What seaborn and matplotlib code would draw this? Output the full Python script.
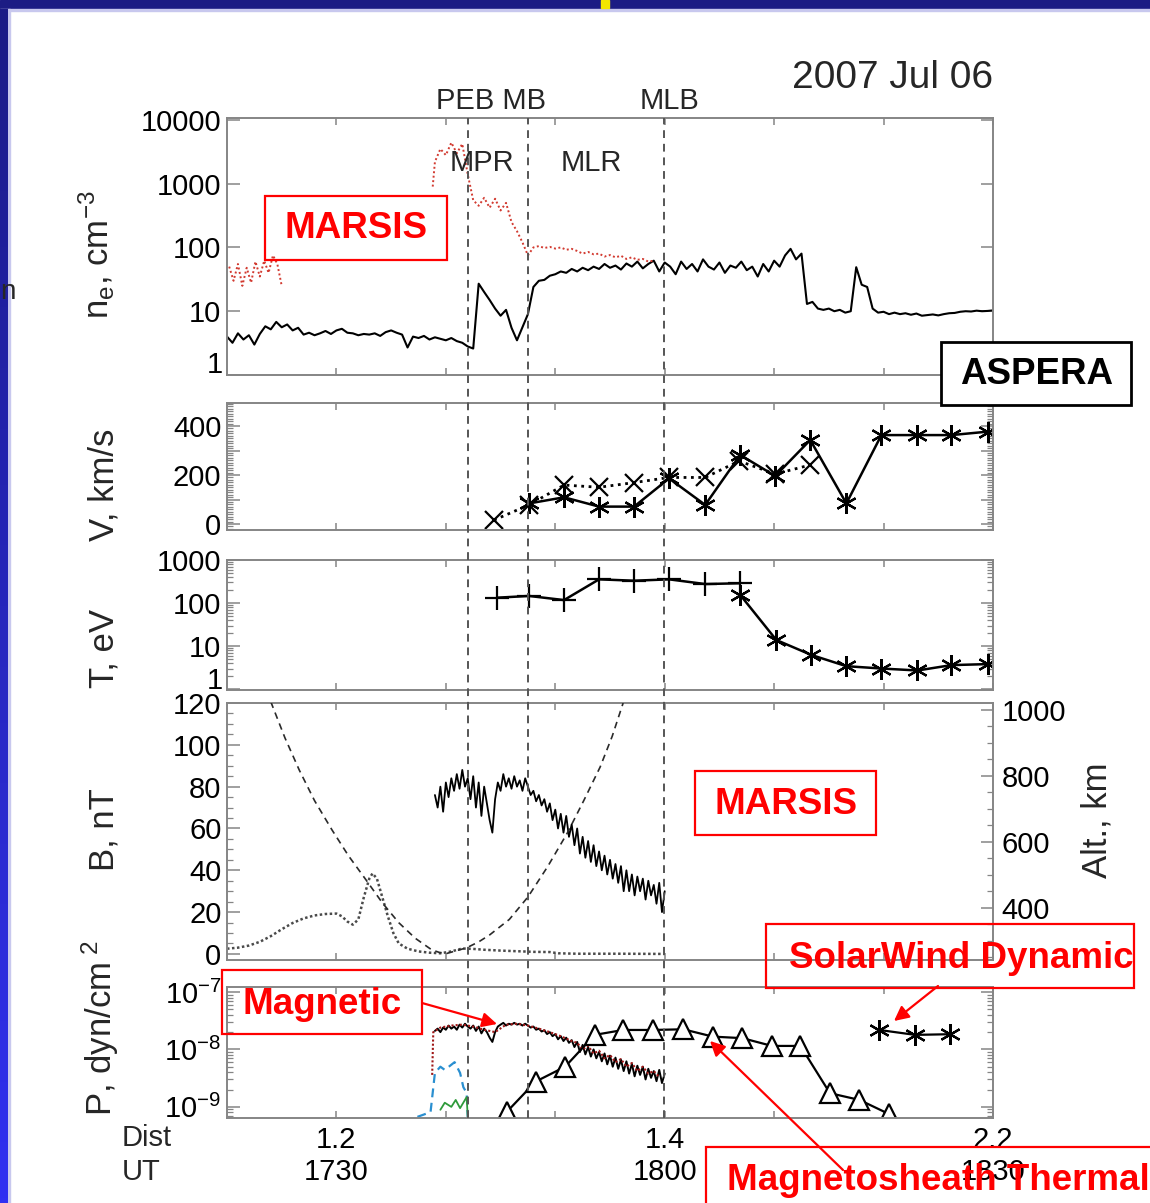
import numpy as np
import matplotlib
matplotlib.use("Agg")
import matplotlib.pyplot as plt
import seaborn as sns
from matplotlib.patches import Rectangle, FancyArrowPatch
from matplotlib.ticker import (MultipleLocator, LogLocator, FixedLocator,
                               FuncFormatter, NullFormatter, NullLocator)
from matplotlib.colors import LinearSegmentedColormap

# ---------------- data (time = minutes after 17:00 UT) ----------------
boundary_names = ["PEB", "MB", "MLB"]
boundary_t = [42.0, 47.5, 59.9]

xtick_t = [30, 60, 90]
xtick_dist = ["1.2", "1.4", "2.2"]
xtick_ut = ["1730", "1800", "1830"]

# electron density, ASPERA (black)
ne_aspera_t = np.arange(20.0, 90.01, 0.5)
ne_aspera = [
    4.0, 3.2, 4.5, 3.6, 4.2, 3.0, 4.4, 5.8, 5.2, 6.8,
    5.6, 6.2, 5.0, 5.5, 4.3, 4.6, 4.2, 4.5, 4.9, 4.4,
    5.0, 5.3, 4.6, 4.5, 4.2, 4.4, 4.3, 4.5, 4.1, 4.7,
    5.0, 4.6, 4.3, 2.7, 4.0, 3.8, 4.1, 3.6, 3.9, 3.7,
    3.5, 3.8, 3.4, 3.2, 2.8, 2.6, 27, 20, 15, 11,
    8.5, 10.5, 5.5, 3.5, 5.6, 9.0, 24, 30, 31, 36,
    38, 42, 40, 46, 42, 48, 44, 50, 46, 55,
    48, 52, 45, 56, 50, 60, 47, 55, 62, 42,
    58, 50, 38, 60, 46, 55, 42, 65, 50, 45,
    58, 40, 52, 48, 60, 44, 50, 35, 55, 42,
    62, 50, 75, 95, 65, 80, 13, 14, 11, 10.5,
    11, 10, 10.5, 9.5, 10, 49, 26, 24, 11, 9.5,
    9.8, 9.0, 9.5, 9.0, 9.3, 8.8, 9.2, 8.5, 8.7, 8.9,
    8.6, 9.0, 9.3, 9.4, 9.8, 10, 9.9, 10.2, 10, 10.1,
    10.3]

# electron density, MARSIS (red dotted), two segments
ne_marsis1_t = [20.2, 20.6, 21.0, 21.4, 21.8, 22.2, 22.6, 23.0, 23.4, 23.8, 24.2, 24.6, 25.0]
ne_marsis1 = [50, 30, 55, 25, 48, 28, 60, 35, 62, 40, 75, 55, 25]
ne_marsis2_t = np.concatenate([[38.8], np.arange(39.0, 59.01, 0.5)])
ne_marsis2 = [900, 2200, 3500, 2800, 4400, 3000, 4200, 1400, 550, 450,
              600, 420, 580, 380, 500, 250, 180, 120, 75, 100,
              105, 98, 102, 96, 100, 92, 95, 88, 80, 85,
              78, 80, 72, 76, 70, 74, 66, 70, 64, 66,
              60, 62]

# ion velocity
v_dot_t = [44.4, 47.6, 50.8, 54.0, 57.2, 60.4, 63.7, 66.8, 70.1, 73.3]
v_dot = [16, 78, 159, 150, 169, 190, 190, 257, 204, 241]
v_sol_t = [47.6, 50.8, 54.0, 57.2, 60.4, 63.7, 66.9, 70.1, 73.3, 76.6, 79.8, 83.1, 86.2, 89.5]
v_sol = [84, 109, 71, 71, 186, 78, 282, 196, 343, 84, 363, 363, 363, 377]

# ion temperature
t_plus_t = [44.7, 47.6, 50.8, 54.0, 57.2, 60.4, 63.7, 66.9]
t_plus = [133, 146, 117, 355, 330, 355, 276, 288]
t_ast_t = [66.9, 70.2, 73.4, 76.6, 79.8, 83.1, 86.2, 89.5]
t_ast = [154, 13.8, 6.2, 3.4, 3.0, 2.7, 3.6, 3.8]

# magnetic field from MARSIS (black)
b_t = np.arange(39.0, 60.001, 0.25)
b_nt = [76, 70, 80, 68, 82, 75, 84, 78, 86, 79,
        88, 80, 84, 74, 85, 70, 82, 66, 80, 72,
        64, 58, 74, 82, 78, 86, 80, 84, 79, 85,
        80, 83, 78, 84, 80, 76, 78, 73, 76, 71,
        74, 68, 72, 64, 69, 60, 67, 58, 66, 56,
        62, 52, 60, 48, 56, 46, 54, 44, 52, 42,
        49, 40, 47, 38, 45, 36, 43, 34, 42, 30,
        40, 30, 38, 28, 37, 30, 36, 26, 35, 28,
        33, 24, 34, 20, 30]

# model crustal field (gray dotted)
bm_t = [20, 21, 22, 23, 24, 25, 26, 27, 28, 29, 30, 30.5, 31, 31.5, 32, 32.5, 33.0, 33.3,
        33.7, 34.2, 34.7, 35.2, 35.7, 36.5, 37.5, 38.5, 39.5, 40.5, 41.5, 42.5, 43.5, 45,
        46.5, 48, 49.5, 50.3, 52, 56, 60]
bm_nt = [2.5, 3.0, 4.0, 5.8, 8.5, 11.8, 14.8, 17.0, 18.4, 19.1, 19.3, 18.0, 15.5, 14.0,
         16.5, 27, 36, 38.5, 36, 27, 18, 10, 5, 2.5, 1.2, 0.6, 0.3, 1.2, 2.6, 2.4, 2.0,
         1.6, 1.3, 1.0, 0.9, 0.3, 0.1, 0.1, 0.0]

# spacecraft altitude (dashed, right axis)
alt_t = [24.0, 25.3, 26.6, 28.0, 29.6, 31.1, 32.7, 34.2, 35.7, 37.2, 38.7, 39.4, 40.1,
         41.9, 43.0, 44.0, 45.8, 47.5, 49.3, 51.1, 52.6, 54.1, 55.2, 56.2]
alt_km = [1025, 915, 818, 725, 636, 558, 485, 415, 355, 308, 273, 265, 262,
          279, 297, 318, 365, 433, 525, 627, 725, 827, 920, 1021]

# pressures (dyn/cm^2)
pmag_t = np.arange(39.0, 60.001, 0.25)
pmag_e8 = [2.1, 2.3, 2.0, 2.4, 2.2, 2.6, 2.3, 2.5, 2.2, 2.7,
           2.4, 2.8, 2.5, 2.3, 2.6, 2.1, 2.5, 1.9, 2.3, 2.0,
           1.6, 1.35, 2.0, 2.5, 2.7, 2.9, 2.6, 2.8, 2.7, 2.9,
           2.7, 2.8, 2.6, 2.8, 2.6, 2.4, 2.5, 2.2, 2.3, 2.05,
           2.15, 1.85, 2.0, 1.7, 1.85, 1.5, 1.7, 1.4, 1.6, 1.3,
           1.45, 1.1, 1.35, 0.9, 1.2, 0.82, 1.1, 0.75, 1.0, 0.7,
           0.9, 0.62, 0.85, 0.55, 0.78, 0.5, 0.72, 0.46, 0.66, 0.42,
           0.62, 0.38, 0.56, 0.34, 0.52, 0.36, 0.5, 0.3, 0.46, 0.32,
           0.42, 0.28, 0.44, 0.26, 0.38]
pred_t = [38.75, 38.85, 39.5, 40.5, 41.5, 42.5, 43.5, 44.5, 45.5, 46.5, 47.5, 48.5, 49.5,
          50.5, 51.5, 52.0, 52.5, 53.0, 53.5, 54.0, 54.5, 55.0, 55.5, 56.0, 56.5, 57.0,
          57.5, 58.0, 58.5, 59.0, 59.5]
pred_e8 = [0.36, 2.0, 2.4, 2.6, 2.7, 2.5, 2.2, 2.0, 2.7, 2.8, 2.6, 2.3, 2.0, 1.7, 1.4,
           1.3, 1.0, 1.15, 0.85, 0.95, 0.7, 0.8, 0.6, 0.68, 0.5, 0.58, 0.42, 0.5, 0.38,
           0.42, 0.33]
pblue_t = [37.4, 38.6, 39.0, 39.5, 39.9, 40.8, 41.3, 41.6, 41.9, 42.0]
pblue_e9 = [0.67, 0.81, 3.9, 5.0, 4.4, 6.0, 3.9, 2.2, 1.75, 0.67]
pgreen_t = [39.5, 39.9, 40.5, 40.9, 41.3, 41.9, 42.0]
pgreen_e9 = [0.89, 1.18, 1.0, 1.32, 0.95, 1.48, 0.67]
psheath_t = [45.6, 48.2, 50.9, 53.6, 56.2, 58.9, 61.7, 64.4, 67.1, 69.8, 72.4, 75.1, 77.8, 80.5]
psheath = [8.3e-10, 2.75e-9, 5.0e-9, 1.79e-8, 2.18e-8, 2.18e-8, 2.24e-8, 1.67e-8,
           1.57e-8, 1.15e-8, 1.15e-8, 1.73e-9, 1.32e-9, 7.5e-10]
psw_t = [79.6, 82.9, 86.1]
psw = [2.18e-8, 1.79e-8, 1.84e-8]

# ---------------- style ----------------
sns.set_theme(style="white")
plt.rcParams["font.family"] = ["Liberation Sans", "DejaVu Sans"]
plt.rcParams["mathtext.fontset"] = "custom"
plt.rcParams["mathtext.rm"] = "Liberation Sans"
plt.rcParams["mathtext.it"] = "Liberation Sans"
plt.rcParams["mathtext.bf"] = "Liberation Sans:bold"

W, H = 1150, 1203
GRAY = "#858585"


def fx(px):
    return px / W


def fy(py):
    return 1 - py / H


fig = plt.figure(figsize=(W / 100, H / 100), dpi=100)
fig.patch.set_facecolor("white")

XL, XR = 227, 993


def panel(top, bottom):
    return fig.add_axes([fx(XL), fy(bottom), fx(XR) - fx(XL), (bottom - top) / H])


def style(ax, left=True, right=True):
    ax.set_facecolor("none")
    for s in ax.spines.values():
        s.set_visible(True)
        s.set_color(GRAY)
        s.set_linewidth(1.4)
    ax.grid(False)
    ax.tick_params(axis="both", which="both", direction="in", colors=GRAY,
                   labelcolor="black", top=True, bottom=True, left=left, right=right,
                   labelsize=21, pad=4)
    ax.tick_params(axis="y", which="major", length=9, width=1.1)
    ax.tick_params(axis="y", which="minor", length=4.5, width=0.9)
    ax.tick_params(axis="x", which="major", length=5, width=1.1)
    ax.set_xlim(20, 90)
    ax.xaxis.set_major_locator(FixedLocator([30, 40, 50, 60, 70, 80, 90]))
    ax.xaxis.set_minor_locator(NullLocator())
    ax.xaxis.set_major_formatter(NullFormatter())
    ax.set_xlabel("")
    ax.set_ylabel("")


def line(ax, t, v, **kw):
    sns.lineplot(x=np.asarray(t, float), y=np.asarray(v, float), ax=ax,
                 estimator=None, errorbar=None, sort=False, legend=False, **kw)


def logfmt_skip1(v, p):
    return "" if abs(v - 1) < 1e-9 else f"{v:g}"


def lifted_one(ax, dy_pt):
    # bottom "1" label sits a little above its tick, as in the original layout
    ax.annotate("1", xy=(0, 1), xycoords=("axes fraction", "data"),
                xytext=(-3, dy_pt), textcoords="offset points",
                ha="right", va="center", fontsize=21, color="black",
                annotation_clip=False)


# ---- background slide frame ----
fig.add_artist(Rectangle((0, fy(9)), 1, 9 / H, transform=fig.transFigure,
                         color="#1c1c84", zorder=0))
fig.add_artist(Rectangle((0, fy(11)), 1, 2 / H, transform=fig.transFigure,
                         color="#c8c8ee", zorder=0))
fig.add_artist(Rectangle((fx(601), fy(8)), 8 / W, 8 / H, transform=fig.transFigure,
                         color="#f2e600", zorder=1))
gax = fig.add_axes([0, 0, fx(8), fy(9)])
gax.imshow(np.linspace(0, 1, 256).reshape(-1, 1), aspect="auto",
           cmap=LinearSegmentedColormap.from_list("edge", ["#1c1c86", "#3030f2"]))
gax.axis("off")
fig.add_artist(Rectangle((fx(8), 0), 1.5 / W, fy(9), transform=fig.transFigure,
                         color="#c8c8ee", zorder=0))
fig.text(0.0, fy(292), "n", fontsize=20, ha="left", va="center", zorder=5)

# ---- panel 1: electron density ----
ax1 = panel(118, 375)
line(ax1, ne_aspera_t, ne_aspera, color="black", lw=1.5)
line(ax1, ne_marsis1_t, ne_marsis1, color="#d23a30", lw=1.4, linestyle=(0, (1, 1.3)))
line(ax1, ne_marsis2_t, ne_marsis2, color="#d23a30", lw=1.4, linestyle=(0, (1, 1.3)))
ax1.set_yscale("log")
ax1.set_ylim(1, 1.07e4)
style(ax1)
ax1.yaxis.set_major_locator(FixedLocator([1, 10, 100, 1000, 10000]))
ax1.yaxis.set_minor_locator(LogLocator(base=10, subs=np.arange(2, 10)))
ax1.yaxis.set_major_formatter(FuncFormatter(logfmt_skip1))
ax1.yaxis.set_minor_formatter(NullFormatter())
lifted_one(ax1, 7)

# ---- panel 2: velocity ----
ax2 = panel(403, 530)
line(ax2, v_dot_t, v_dot, color="black", lw=2.0, linestyle=":", marker="x",
     markersize=13, markeredgecolor="black", markeredgewidth=1.6)
line(ax2, v_sol_t, v_sol, color="black", lw=1.8, marker=(6, 2, 0),
     markersize=15, markeredgecolor="black", markeredgewidth=1.6)
ax2.set_ylim(-24.5, 494)
style(ax2)
ax2.yaxis.set_major_locator(MultipleLocator(100))
ax2.yaxis.set_minor_locator(MultipleLocator(10))
ax2.yaxis.set_major_formatter(FuncFormatter(lambda v, p: f"{v:.0f}" if v % 200 == 0 else ""))

# ---- panel 3: temperature ----
ax3 = panel(560, 690)
line(ax3, t_plus_t, t_plus, color="black", lw=1.8, marker="+",
     markersize=17, markeredgecolor="black", markeredgewidth=1.6)
line(ax3, t_ast_t, t_ast, color="black", lw=1.8, marker=(6, 2, 0),
     markersize=15, markeredgecolor="black", markeredgewidth=1.6)
ax3.set_yscale("log")
ax3.set_ylim(0.95, 1000)
style(ax3)
ax3.yaxis.set_major_locator(FixedLocator([1, 10, 100, 1000]))
ax3.yaxis.set_minor_locator(LogLocator(base=10, subs=np.arange(2, 10)))
ax3.yaxis.set_major_formatter(FuncFormatter(logfmt_skip1))
ax3.yaxis.set_minor_formatter(NullFormatter())
lifted_one(ax3, 6)

# ---- panel 4: magnetic field + altitude ----
ax4 = panel(703, 960)
line(ax4, bm_t, bm_nt, color="#4a4a4a", lw=1.8, linestyle=(0, (1, 1)))
line(ax4, b_t, b_nt, color="black", lw=1.3)
ax4.set_ylim(-2.9, 120)
style(ax4, left=True, right=False)
ax4.yaxis.set_major_locator(MultipleLocator(20))
ax4.yaxis.set_minor_locator(MultipleLocator(5))
ax4.yaxis.set_major_formatter(FuncFormatter(lambda v, p: f"{v:.0f}"))

ax4b = ax4.twinx()
line(ax4b, alt_t, alt_km, color="#2a2a2a", lw=1.2, linestyle=(0, (4, 3)))
ax4b.set_ylim(242, 1021)
ax4b.set_xlim(20, 90)
for s in ax4b.spines.values():
    s.set_visible(False)
ax4b.grid(False)
ax4b.set_ylabel("")
ax4b.set_xlabel("")
ax4b.yaxis.set_major_locator(MultipleLocator(200))
ax4b.yaxis.set_minor_locator(MultipleLocator(50))
ax4b.yaxis.set_major_formatter(FuncFormatter(lambda v, p: f"{v:.0f}"))
ax4b.tick_params(axis="y", which="both", direction="in", colors=GRAY, labelcolor="black",
                 left=False, right=True, labelsize=21, pad=6)
ax4b.tick_params(axis="y", which="major", length=9, width=1.1)
ax4b.tick_params(axis="y", which="minor", length=4.5, width=0.9)

# ---- panel 5: pressures ----
ax5 = panel(987, 1118)
line(ax5, pblue_t, np.asarray(pblue_e9) * 1e-9, color="#2a8fd0", lw=1.6, linestyle=(0, (4, 2.5)))
line(ax5, pgreen_t, np.asarray(pgreen_e9) * 1e-9, color="#2e9a3a", lw=1.3)
line(ax5, pmag_t, np.asarray(pmag_e8) * 1e-8, color="black", lw=1.4)
line(ax5, pred_t, np.asarray(pred_e8) * 1e-8, color="#a01818", lw=1.5, linestyle=(0, (1, 1)))
line(ax5, psheath_t, psheath, color="black", lw=1.6, marker="^", markersize=14,
     markerfacecolor="white", markeredgecolor="black", markeredgewidth=1.6)
line(ax5, psw_t, psw, color="black", lw=1.6, marker=(6, 2, 0), markersize=15,
     markeredgecolor="black", markeredgewidth=1.6)
ax5.set_yscale("log")
ax5.set_ylim(6.4e-10, 1.22e-7)
style(ax5)
ax5.yaxis.set_major_locator(FixedLocator([1e-9, 1e-8, 1e-7]))
ax5.yaxis.set_minor_locator(LogLocator(base=10, subs=np.arange(2, 10)))
ax5.yaxis.set_major_formatter(FuncFormatter(
    lambda v, p: "10$^{%d}$" % int(round(np.log10(v)))))
ax5.yaxis.set_minor_formatter(NullFormatter())
ax5.set_xticks(xtick_t + [40, 50, 70, 80])
lbl = {t: f"{d}\n{u}" for t, d, u in zip(xtick_t, xtick_dist, xtick_ut)}
ax5.set_xticklabels([lbl.get(t, "") for t in ax5.get_xticks()], fontsize=21,
                    linespacing=1.15)
ax5.tick_params(axis="x", pad=6)

# ---- dashed boundary lines across all panels ----
ov = fig.add_axes([fx(XL), fy(1118), fx(XR) - fx(XL), (1118 - 118) / H])
ov.set_xlim(20, 90)
ov.set_ylim(0, 1)
ov.axis("off")
ov.patch.set_alpha(0)
for t in boundary_t:
    ov.axvline(t, color="#555555", lw=1.4, linestyle=(0, (4, 3)))

# ---- texts ----
fig.text(fx(993), fy(78), "2007 Jul 06", fontsize=28, ha="right", va="center")
fig.text(fx(491), fy(101), f"{boundary_names[0]} {boundary_names[1]}", fontsize=21,
         ha="center", va="center")
fig.text(fx(670), fy(101), boundary_names[2], fontsize=21, ha="center", va="center")
fig.text(fx(482), fy(163), "MPR", fontsize=21, ha="center", va="center")
fig.text(fx(591), fy(163), "MLR", fontsize=21, ha="center", va="center")

fig.text(fx(97), fy(255), "n$_e$, cm$^{-3}$", fontsize=25, rotation=90, ha="center", va="center")
fig.text(fx(104), fy(485), "V, km/s", fontsize=25, rotation=90, ha="center", va="center")
fig.text(fx(104), fy(648), "T, eV", fontsize=25, rotation=90, ha="center", va="center")
fig.text(fx(104), fy(830), "B, nT", fontsize=25, rotation=90, ha="center", va="center")
fig.text(fx(100), fy(1028), "P, dyn/cm$^{\\ 2}$", fontsize=25, rotation=90, ha="center", va="center")
fig.text(fx(1097), fy(820), "Alt., km", fontsize=25, rotation=90, ha="center", va="center")
fig.text(fx(122), fy(1138), "Dist", fontsize=21, ha="left", va="center")
fig.text(fx(122), fy(1172), "UT", fontsize=21, ha="left", va="center")

# ---- annotation boxes ----
boxes = [
    ("MARSIS", (265, 196, 447, 260), (356, 229), "center", "red", False),
    ("MARSIS", (695, 771, 876, 835), (786, 804), "center", "red", False),
    ("ASPERA", (941, 342, 1131, 405), (1037, 375), "center", "black", True),
    ("SolarWind Dynamic", (766, 924, 1134, 988), (961, 958), "center", "red", False),
    ("Magnetic", (222, 970, 422, 1034), (322, 1004), "center", "red", False),
    ("Magnetosheath Thermal", (706, 1147, 1165, 1215), (727, 1181), "left", "red", False),
]
for text, (x0, y0, x1, y1), (tx, ty), ha, col, filled in boxes:
    fig.add_artist(Rectangle((fx(x0), fy(y1)), (x1 - x0) / W, (y1 - y0) / H,
                             transform=fig.transFigure, fill=filled, facecolor="white",
                             edgecolor=col, lw=2.0 if col == "black" else 1.6, zorder=20))
    fig.text(fx(tx), fy(ty), text, fontsize=26.5, fontweight="bold", color=col,
             ha=ha, va="center", zorder=21)

arrows = [((422, 1003), (497, 1024)), ((938, 986), (894, 1021)), ((843, 1170), (710, 1041))]
for (xa, ya), (xb, yb) in arrows:
    fig.add_artist(FancyArrowPatch((fx(xa), fy(ya)), (fx(xb), fy(yb)),
                                   transform=fig.transFigure, arrowstyle="-|>",
                                   mutation_scale=22, color="red", lw=1.6,
                                   shrinkA=0, shrinkB=0, zorder=22))

fig.savefig("out.png", dpi=100, facecolor="white")
